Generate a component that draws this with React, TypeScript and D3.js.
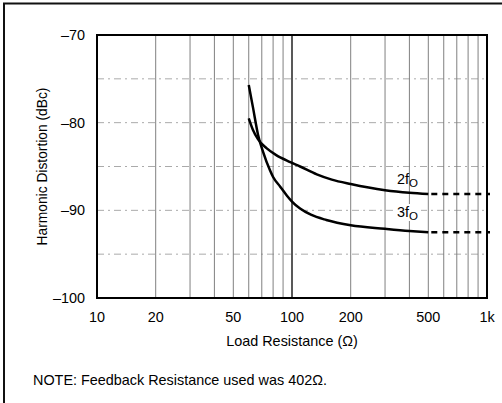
import React from "react";
import * as d3 from "d3";

const xTicks = [10, 20, 50, 100, 200, 500, 1000];
const xTickLabels = ["10", "20", "50", "100", "200", "500", "1k"];
const yTicks = [-70, -80, -90, -100];
const yTickLabels = ["–70", "–80", "–90", "–100"];
const xGrid = [20, 30, 40, 50, 60, 70, 80, 90, 200, 300, 400, 500, 600, 700, 800, 900];
const yGrid = [-75, -80, -85, -90, -95];

const r2 = [60, 63, 67, 74, 83, 98, 110, 134, 160, 200, 300, 400, 500];
const v2 = [-79.5, -80.8, -81.9, -82.9, -83.7, -84.5, -85.0, -85.9, -86.5, -87.0, -87.7, -88.0, -88.15];
const r3 = [60, 63, 67, 71, 77, 80, 87, 94, 100, 110, 125, 150, 200, 300, 400, 500];
const v3 = [-75.7, -78.2, -81.4, -83.3, -85.4, -86.2, -87.3, -88.3, -89.0, -89.8, -90.5, -91.1, -91.7, -92.1, -92.35, -92.5];
const extR = [500, 1000];

const W = 502, H = 403;
const L = 97, R = 487, T = 35, B = 298;

export default function App() {
  const x = d3.scaleLog().domain([10, 1000]).range([L, R]);
  const y = d3.scaleLinear().domain([-100, -70]).range([B, T]);
  const line = d3
    .line<[number, number]>()
    .x((d) => x(d[0]))
    .y((d) => y(d[1]))
    .curve(d3.curveMonotoneX);
  const p2 = line(r2.map((r, i) => [r, v2[i]] as [number, number])) || "";
  const p3 = line(r3.map((r, i) => [r, v3[i]] as [number, number])) || "";
  const e2 = line(extR.map((r) => [r, v2[v2.length - 1]] as [number, number])) || "";
  const e3 = line(extR.map((r) => [r, v3[v3.length - 1]] as [number, number])) || "";
  const font = "Liberation Sans, Arial, Helvetica, sans-serif";

  return (
    <svg
      width={W}
      height={H}
      style={{ position: "absolute", left: 0, top: 0, background: "#fff" }}
      fontFamily={font}
    >
      <rect x={0} y={0} width={W} height={H} fill="#fff" />
      {/* outer frame (top and left only) */}
      <line x1={3} y1={3.5} x2={W} y2={3.5} stroke="#111" strokeWidth={2} />
      <line x1={4} y1={3} x2={4} y2={H} stroke="#111" strokeWidth={2} />

      {/* horizontal dotted grid */}
      {yGrid.map((v) => (
        <line
          key={"h" + v}
          x1={L}
          x2={R}
          y1={y(v)}
          y2={y(v)}
          stroke="#aaa"
          strokeWidth={1}
          strokeDasharray="7 4 2 4"
        />
      ))}
      {/* vertical grid */}
      {xGrid.map((v) => (
        <line
          key={"v" + v}
          x1={x(v)}
          x2={x(v)}
          y1={T}
          y2={B}
          stroke="#808080"
          strokeWidth={1}
        />
      ))}
      <line x1={x(100)} x2={x(100)} y1={T} y2={B} stroke="#222" strokeWidth={1.5} />

      {/* curves */}
      <path d={p2} fill="none" stroke="#000" strokeWidth={2.5} />
      <path d={p3} fill="none" stroke="#000" strokeWidth={2.5} />
      <path d={e2} fill="none" stroke="#000" strokeWidth={2.5} strokeDasharray="6 5" transform="translate(3,0)" />
      <path d={e3} fill="none" stroke="#000" strokeWidth={2.5} strokeDasharray="6 5" transform="translate(3,0)" />

      {/* labels */}
      <g fontSize={14.4}>
        <rect x={394} y={204} width={27} height={17} fill="#fff" />
        <text x={397} y={184}>
          2f<tspan fontSize={11.5} dy={3}>O</tspan>
        </text>
        <text x={397} y={217}>
          3f<tspan fontSize={11.5} dy={3}>O</tspan>
        </text>
      </g>

      {/* plot frame */}
      <rect x={L} y={T} width={R - L} height={B - T} fill="none" stroke="#000" strokeWidth={2} />

      {/* y ticks */}
      {yTicks.map((v, i) => (
        <text key={"yt" + v} x={85} y={y(v) + 5} textAnchor="end" fontSize={14.4}>
          {yTickLabels[i]}
        </text>
      ))}
      {/* x ticks */}
      {xTicks.map((v, i) => (
        <text key={"xt" + v} x={x(v)} y={322} textAnchor="middle" fontSize={14.4}>
          {xTickLabels[i]}
        </text>
      ))}

      <text x={292} y={346} textAnchor="middle" fontSize={14.4}>
        Load Resistance (Ω)
      </text>
      <text
        transform={`translate(46.5,${(T + B) / 2}) rotate(-90)`}
        textAnchor="middle"
        fontSize={13.8}
      >
        Harmonic Distortion (dBc)
      </text>
      <text x={33} y={385} fontSize={14.4}>
        NOTE: Feedback Resistance used was 402Ω.
      </text>
    </svg>
  );
}
